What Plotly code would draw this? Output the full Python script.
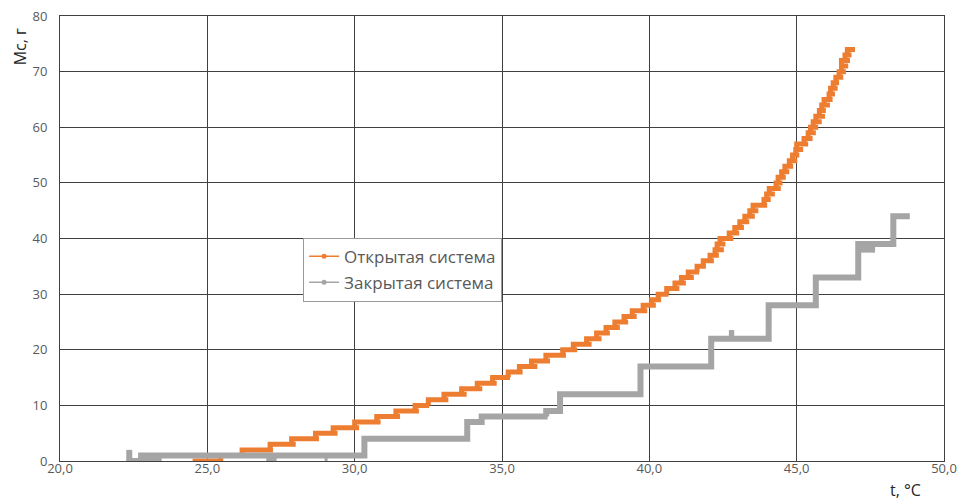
import plotly.graph_objects as go

# Открытая система: mass level (g) and the temperature span held at each level
open_level = list(range(0, 75))
open_t_start = [24.50, 25.45, 26.18, 27.13, 27.86, 28.67, 29.27, 30.00, 30.75, 31.40,
                32.05, 32.50, 33.03, 33.63, 34.16, 34.68, 35.21, 35.59, 36.00, 36.49,
                37.06, 37.42, 37.87, 38.21, 38.53, 38.83, 39.14, 39.42, 39.79, 40.08,
                40.30, 40.59, 40.87, 41.09, 41.32, 41.62, 41.83, 42.06, 42.23, 42.30,
                42.40, 42.71, 42.90, 43.07, 43.24, 43.41, 43.52, 43.89, 43.98, 44.07,
                44.30, 44.37, 44.49, 44.60, 44.75, 44.86, 44.97, 45.00, 45.25, 45.39,
                45.47, 45.56, 45.65, 45.77, 45.85, 45.93, 46.10, 46.15, 46.24, 46.33,
                46.44, 46.52, 46.52, 46.64, 46.72]
open_t_end = [25.54, 26.25, 27.23, 28.00, 28.79, 29.42, 30.15, 30.88, 31.54, 32.18,
              32.53, 33.18, 33.80, 34.33, 34.82, 35.27, 35.70, 36.20, 36.63, 37.17,
              37.55, 38.04, 38.38, 38.66, 39.00, 39.28, 39.57, 39.93, 40.22, 40.40,
              40.65, 41.02, 41.24, 41.51, 41.69, 41.92, 42.19, 42.36, 42.53, 42.58,
              42.85, 43.05, 43.21, 43.39, 43.58, 43.70, 44.00, 44.12, 44.26, 44.46,
              44.52, 44.63, 44.75, 44.88, 45.02, 45.09, 45.22, 45.39, 45.54, 45.65,
              45.73, 45.85, 45.96, 45.99, 46.13, 46.22, 46.30, 46.39, 46.44, 46.58,
              46.67, 46.75, 46.81, 46.86, 46.98]

# Закрытая система: main staircase
closed_level = [1, 4, 7, 8, 9, 12, 17, 22, 28, 33, 39, 44]
closed_t_start = [22.65, 30.33, 33.82, 34.31, 36.50, 36.97, 39.70, 42.10, 44.05, 45.65, 47.09, 48.28]
closed_t_end = [30.33, 33.82, 34.31, 36.55, 36.97, 39.70, 42.10, 44.05, 45.65, 47.09, 48.28, 48.84]

# Закрытая система: isolated horizontal fragments
closed_frag_level = [0, 0, 0, 23, 38]
closed_frag_t_start = [22.30, 27.00, 28.98, 42.70, 47.09]
closed_frag_t_end = [23.45, 27.35, 29.08, 42.88, 47.66]

# Закрытая система: isolated vertical runs
closed_riser_t = [22.35, 27.15]
closed_riser_lo = [0, 0]
closed_riser_hi = [2, 1]

x_ticks = [20, 25, 30, 35, 40, 45, 50]
y_ticks = [0, 10, 20, 30, 40, 50, 60, 70, 80]

ORANGE = "#ED7D31"
GRAY = "#A5A5A5"
GRID = "#404040"
TXT = "#595959"


def staircase(levels, starts, ends):
    xs, ys = [], []
    for lv, s, e in zip(levels, starts, ends):
        xs += [s, e]
        ys += [lv, lv]
    return xs, ys


def pieces(levels, starts, ends):
    xs, ys = [], []
    for lv, s, e in zip(levels, starts, ends):
        xs += [s, e, None]
        ys += [lv, lv, None]
    return xs, ys


fig = go.Figure()

ox, oy = staircase(open_level, open_t_start, open_t_end)
fig.add_trace(go.Scatter(x=ox, y=oy, mode="lines", line=dict(color=ORANGE, width=5, shape="hv"),
                         showlegend=False, cliponaxis=False, hoverinfo="skip"))

cx, cy = staircase(closed_level, closed_t_start, closed_t_end)
fig.add_trace(go.Scatter(x=cx, y=cy, mode="lines", line=dict(color=GRAY, width=6, shape="hv"),
                         showlegend=False, cliponaxis=False, hoverinfo="skip"))

fx, fy = pieces(closed_frag_level, closed_frag_t_start, closed_frag_t_end)
rx, ry = [], []
for t, lo, hi in zip(closed_riser_t, closed_riser_lo, closed_riser_hi):
    rx += [t, t, None]
    ry += [lo, hi, None]
fig.add_trace(go.Scatter(x=fx + rx, y=fy + ry, mode="lines", line=dict(color=GRAY, width=6),
                         showlegend=False, cliponaxis=False, hoverinfo="skip"))

# legend entries
fig.add_trace(go.Scatter(x=[None], y=[None], mode="lines+markers", name="Открытая система",
                         legendgroup="open",
                         line=dict(color=ORANGE, width=1.5), marker=dict(color=ORANGE, size=5)))
fig.add_trace(go.Scatter(x=[None], y=[None], mode="lines+markers", name="Закрытая система",
                         legendgroup="closed",
                         line=dict(color=GRAY, width=1.5), marker=dict(color=GRAY, size=5)))

fig.update_layout(
    width=962, height=502,
    margin=dict(l=60, r=18, t=16, b=41, autoexpand=False),
    paper_bgcolor="white", plot_bgcolor="white",
    separators=", ",
    font=dict(family="Open Sans", size=13, color=TXT),
    xaxis=dict(range=[20, 50], tickvals=x_ticks, tickformat=".1f", automargin=False,
               showgrid=True, gridcolor=GRID, gridwidth=1,
               showline=True, linecolor=GRID, linewidth=1, mirror=True,
               zeroline=False, ticks="", ticklen=0, ticklabelstandoff=-5,
               tickfont=dict(size=13, color=TXT)),
    yaxis=dict(range=[0, 80], tickvals=y_ticks, automargin=False,
               showgrid=True, gridcolor=GRID, gridwidth=1,
               showline=True, linecolor=GRID, linewidth=1, mirror=True,
               zeroline=False, ticks="", ticklen=0, ticklabelstandoff=9,
               tickfont=dict(size=13, color=TXT)),
    legend=dict(x=0.275, y=0.502, xanchor="left", yanchor="top",
                bgcolor="white", bordercolor="#9a9a9a", borderwidth=1,
                tracegroupgap=1, itemwidth=30, entrywidth=170,
                font=dict(family="Open Sans", size=17, color=TXT)),
    annotations=[
        dict(text="Mc, г", xref="paper", yref="paper", x=-0.045, y=0.93,
             textangle=-90, showarrow=False, xanchor="center", yanchor="middle",
             font=dict(family="Open Sans", size=16, color="#262626")),
        dict(text="t, °C", xref="paper", yref="paper", x=0.956, y=-0.065,
             showarrow=False, xanchor="center", yanchor="middle",
             font=dict(family="Open Sans", size=16, color="#262626")),
    ],
)

fig.write_html("out.html")
